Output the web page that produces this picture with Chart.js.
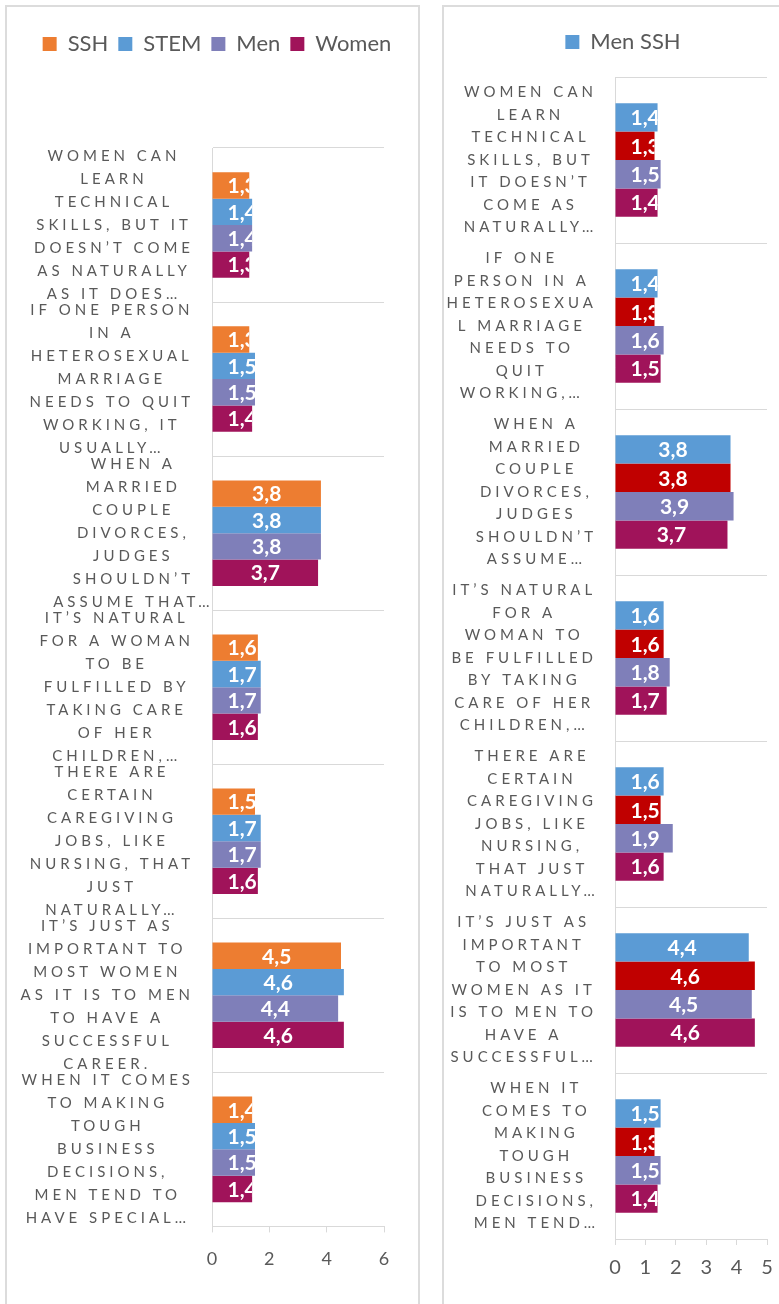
<!DOCTYPE html>
<html lang="en">
<head>
  <meta charset="UTF-8">
  <title>Gender stereotypes – SSH vs STEM</title>
  <script src="https://cdn.jsdelivr.net/npm/chart.js"></script>
  <style>
    body {
      margin: 0;
      width: 779px;
      height: 1304px;
      overflow: hidden;
      background: #fff;
      position: relative;
      font-family: 'Lato', sans-serif;
    }
    .frame {
      position: absolute;
      top: 5px;
      height: 1330px;
      border: 2px solid #dcdcdc;
      box-sizing: border-box;
    }
    #leftFrame { left: 5px; width: 415px; }
    #rightFrame { left: 442px; width: 400px; }
    canvas { position: absolute; }
    #leftChart { left: 7px; top: 6px; }
    #rightChart { left: 443px; top: 6px; }
  </style>
</head>
<body>

  <div class="frame" id="leftFrame"></div>
  <div class="frame" id="rightFrame"></div>
  <canvas id="leftChart" width="412" height="1300"></canvas>
  <canvas id="rightChart" width="360" height="1300"></canvas>

  <script>
    // category labels, as they appear wrapped and cut in the original
    const leftCategories = [
      ['WOMEN CAN', 'LEARN', 'TECHNICAL', 'SKILLS, BUT IT', 'DOESN’T COME', 'AS NATURALLY', 'AS IT DOES…'],
      ['IF ONE PERSON', 'IN A', 'HETEROSEXUAL', 'MARRIAGE', 'NEEDS TO QUIT', 'WORKING, IT', 'USUALLY…'],
      ['WHEN A', 'MARRIED', 'COUPLE', 'DIVORCES,', 'JUDGES', 'SHOULDN’T', 'ASSUME THAT…'],
      ['IT’S NATURAL', 'FOR A WOMAN', 'TO BE', 'FULFILLED BY', 'TAKING CARE', 'OF HER', 'CHILDREN,…'],
      ['THERE ARE', 'CERTAIN', 'CAREGIVING', 'JOBS, LIKE', 'NURSING, THAT', 'JUST', 'NATURALLY…'],
      ['IT’S JUST AS', 'IMPORTANT TO', 'MOST WOMEN', 'AS IT IS TO MEN', 'TO HAVE A', 'SUCCESSFUL', 'CAREER.'],
      ['WHEN IT COMES', 'TO MAKING', 'TOUGH', 'BUSINESS', 'DECISIONS,', 'MEN TEND TO', 'HAVE SPECIAL…']
    ];
    const rightCategories = [
      ['WOMEN CAN', 'LEARN', 'TECHNICAL', 'SKILLS, BUT', 'IT DOESN’T', 'COME AS', 'NATURALLY…'],
      ['IF ONE', 'PERSON IN A', 'HETEROSEXUA', 'L MARRIAGE', 'NEEDS TO', 'QUIT', 'WORKING,…'],
      ['WHEN A', 'MARRIED', 'COUPLE', 'DIVORCES,', 'JUDGES', 'SHOULDN’T', 'ASSUME…'],
      ['IT’S NATURAL', 'FOR A', 'WOMAN TO', 'BE FULFILLED', 'BY TAKING', 'CARE OF HER', 'CHILDREN,…'],
      ['THERE ARE', 'CERTAIN', 'CAREGIVING', 'JOBS, LIKE', 'NURSING,', 'THAT JUST', 'NATURALLY…'],
      ['IT’S JUST AS', 'IMPORTANT', 'TO MOST', 'WOMEN AS IT', 'IS TO MEN TO', 'HAVE A', 'SUCCESSFUL…'],
      ['WHEN IT', 'COMES TO', 'MAKING', 'TOUGH', 'BUSINESS', 'DECISIONS,', 'MEN TEND…']
    ];

    // left chart series
    const ssh   = [1.3, 1.3, 3.8, 1.6, 1.5, 4.5, 1.4];
    const stem  = [1.4, 1.5, 3.8, 1.7, 1.7, 4.6, 1.5];
    const men   = [1.4, 1.5, 3.8, 1.7, 1.7, 4.4, 1.5];
    const women = [1.3, 1.4, 3.7, 1.6, 1.6, 4.6, 1.4];

    // right chart series
    const menSsh     = [1.4, 1.4, 3.8, 1.6, 1.6, 4.4, 1.5];
    const womenSsh   = [1.3, 1.3, 3.8, 1.6, 1.5, 4.6, 1.3];
    const menStem    = [1.5, 1.6, 3.9, 1.8, 1.9, 4.5, 1.5];
    const womenStem  = [1.4, 1.5, 3.7, 1.7, 1.6, 4.6, 1.4];

    const leftTicks = [0, 2, 4, 6];
    const rightTicks = [0, 1, 2, 3, 4, 5];

    const GRID = '#d9d9d9';
    const TEXT = '#595959';

    function fmt(v) {
      return v.toFixed(1).replace('.', ',');
    }

    // white value labels inside the bars, cut off at the bar end like in Excel
    const barLabels = {
      id: 'barLabels',
      afterDatasetsDraw(chart) {
        const ctx = chart.ctx;
        ctx.save();
        ctx.font = 'bold 21px Lato';
        ctx.fillStyle = '#fff';
        ctx.textAlign = 'center';
        ctx.textBaseline = 'middle';
        chart.data.datasets.forEach((ds, i) => {
          chart.getDatasetMeta(i).data.forEach((bar, j) => {
            const p = bar.getProps(['x', 'y', 'base', 'height'], true);
            const txt = fmt(ds.data[j]);
            const w = ctx.measureText(txt).width;
            const cx = Math.max((p.base + p.x) / 2, p.base + 15 + w / 2);
            ctx.save();
            ctx.beginPath();
            ctx.rect(p.base, p.y - p.height / 2, p.x - p.base, p.height);
            ctx.clip();
            ctx.fillText(txt, cx, p.y + 1);
            ctx.restore();
          });
        });
        ctx.restore();
      }
    };

    // spaced-out upper case category labels left of the axis
    const catLabels = {
      id: 'catLabels',
      afterDraw(chart, args, opts) {
        const ctx = chart.ctx;
        const y = chart.scales.y;
        ctx.save();
        ctx.font = '15px Lato';
        ctx.letterSpacing = opts.spacing + 'px';
        ctx.fillStyle = TEXT;
        ctx.textAlign = 'center';
        ctx.textBaseline = 'middle';
        const right = y.right - opts.gap;
        chart.data.labels.forEach((lines, i) => {
          const cy = y.getPixelForValue(i);
          const widths = lines.filter(l => !l.endsWith('…')).map(l => ctx.measureText(l).width);
          const cx = right - Math.max(...widths) / 2;
          lines.forEach((l, k) => {
            ctx.fillText(l, cx + opts.spacing / 2, cy + (k - (lines.length - 1) / 2) * opts.lineHeight);
          });
        });
        ctx.restore();
      }
    };

    function makeChart(id, labels, datasets, ticks, lay) {
      return new Chart(document.getElementById(id), {
        type: 'bar',
        data: { labels: labels, datasets: datasets },
        options: {
          indexAxis: 'y',
          responsive: false,
          animation: false,
          datasets: {
            bar: { categoryPercentage: 0.685, barPercentage: 1.0, xAxisID: 'x', yAxisID: 'y' }
          },
          layout: { padding: lay.padding },
          plugins: {
            legend: {
              position: 'top',
              labels: {
                boxWidth: 14,
                boxHeight: 14,
                padding: 10,
                color: TEXT,
                font: { family: 'Lato', size: 22 },
                filter: lay.legendFilter
              }
            },
            tooltip: { enabled: false },
            catLabels: { spacing: 4, gap: 20, lineHeight: lay.lineHeight }
          },
          scales: {
            y: {
              ticks: { display: false },
              grid: { color: GRID, drawTicks: false, offset: true },
              border: { color: GRID },
              afterFit(s) { s.width = lay.axisWidth; }
            },
            x: {
              min: ticks[0],
              max: ticks[ticks.length - 1],
              ticks: {
                stepSize: ticks[1] - ticks[0],
                color: TEXT,
                padding: lay.tickPad,
                font: { family: 'Lato', size: lay.tickSize }
              },
              grid: { color: GRID, drawOnChartArea: false, drawTicks: true, tickLength: 6 },
              border: { color: GRID }
            },
            // empty strip between the legend and the plot
            gapTop: {
              type: 'linear',
              position: 'top',
              ticks: { display: false },
              grid: { display: false },
              border: { display: false },
              afterFit(s) { s.height = lay.gapTop; }
            },
            // empty strip right of the plot
            gapRight: {
              type: 'linear',
              position: 'right',
              ticks: { display: false },
              grid: { display: false },
              border: { display: false },
              afterFit(s) { s.width = lay.gapRight; }
            }
          }
        },
        plugins: [barLabels, catLabels]
      });
    }

    makeChart('leftChart', leftCategories, [
      { label: 'SSH', data: ssh, backgroundColor: '#ed7d31' },
      { label: 'STEM', data: stem, backgroundColor: '#5b9bd5' },
      { label: 'Men', data: men, backgroundColor: '#7f7fb9' },
      { label: 'Women', data: women, backgroundColor: '#a0135a' }
    ], leftTicks, {
      padding: { top: 17, left: 8, right: 0, bottom: 20 },
      axisWidth: 197,
      gapTop: 83,
      gapRight: 35,
      lineHeight: 23,
      tickPad: 16,
      tickSize: 18
    });

    makeChart('rightChart', rightCategories, [
      { label: 'Men SSH', data: menSsh, backgroundColor: '#5b9bd5' },
      { label: 'Women SSH', data: womenSsh, backgroundColor: '#c00000' },
      { label: 'Men STEM', data: menStem, backgroundColor: '#7f7fb9' },
      { label: 'Women STEM', data: womenStem, backgroundColor: '#a0135a' }
    ], rightTicks, {
      padding: { top: 15, left: 0, right: 0, bottom: 15 },
      axisWidth: 172,
      gapTop: 14,
      gapRight: 36,
      lineHeight: 22.5,
      tickPad: 11,
      tickSize: 20,
      legendFilter: item => item.datasetIndex === 0
    });
  </script>

</body>
</html>
